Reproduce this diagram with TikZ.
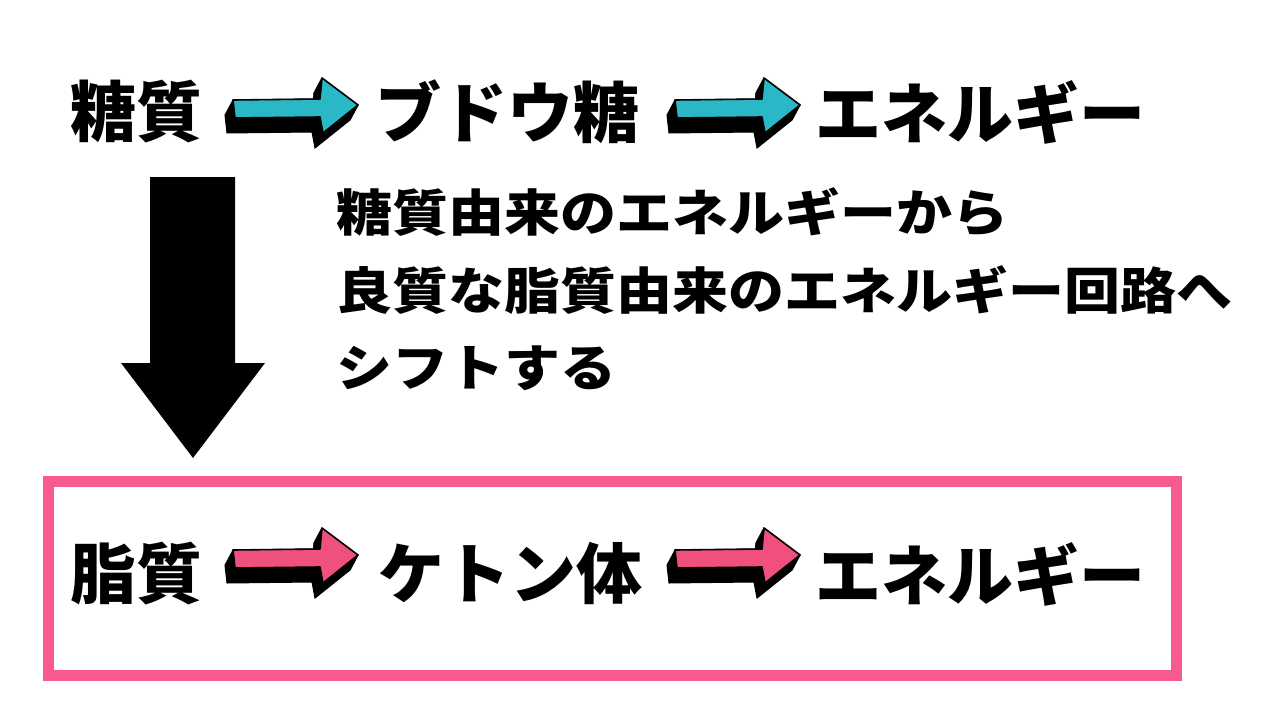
\documentclass[tikz,border=0pt]{standalone}
\usepackage{fontspec}
\newfontfamily\jp{Noto Sans CJK JP}
\usetikzlibrary{positioning}
\definecolor{cyanA}{HTML}{2AB8C6}
\definecolor{pinkA}{HTML}{F0507E}
\definecolor{pinkBox}{HTML}{F65A8E}
\tikzset{
  big/.style={font=\jp\bfseries\fontsize{66}{72}\selectfont, inner sep=0pt, anchor=west},
  mid/.style={font=\jp\bfseries\fontsize{50}{56}\selectfont, inner sep=0pt, anchor=west},
  pics/fatarrow/.style={code={
    \foreach \t in {0,0.05,...,1.01}
      \filldraw[black, line width=1pt, shift={(-8*\t,15*\t)}]
        (-125,-5) -- (-38,-6) -- (-36,-27) -- (0,0) -- (-35,28) -- (-38,12) -- (-123,13) -- cycle;
    \filldraw[fill=#1, draw=black, line width=1.6pt, line join=round]
        (-125,-5) -- (-38,-6) -- (-36,-27) -- (0,0) -- (-35,28) -- (-38,12) -- (-123,13) -- cycle;
  }}
}
\begin{document}
\begin{tikzpicture}[x=1pt,y=-1pt]
\useasboundingbox[fill=white] (0,0) rectangle (1280,720);

% top row
\node[big] (t1) at (70,112) {糖質};
\node[big] (t2) at (375,112) {ブドウ糖};
\node[big] (t3) at (815,112) {エネルギー};
\coordinate (ta1) at (358,105);
\coordinate (ta2) at (800,105);
\pic at (ta1) {fatarrow=cyanA};
\pic at (ta2) {fatarrow=cyanA};

% big down arrow
\fill[black] (150,177) -- (235,177) -- (235,363) -- (265,363) -- (193,458) -- (121,363) -- (150,363) -- cycle;

% middle text
\node[mid] (m1) at (336,212) {\scalebox{1.12}[1]{糖質由来のエネルギーから}};
\node[mid] (m2) at (336,290) {\scalebox{1.12}[1]{良質な脂質由来のエネルギー回路へ}};
\node[mid] (m3) at (336,368) {\scalebox{1.12}[1]{シフトする}};

% pink box
\draw[pinkBox, line width=11pt] (48.5,481.5) rectangle (1176.5,675);

% bottom row
\node[big] (b1) at (70,574) {脂質};
\node[big] (b2) at (378,574) {ケトン体};
\node[big] (b3) at (815,574) {エネルギー};
\coordinate (ba1) at (358,555);
\coordinate (ba2) at (800,555);
\pic at (ba1) {fatarrow=pinkA};
\pic at (ba2) {fatarrow=pinkA};
\end{tikzpicture}
\end{document}
